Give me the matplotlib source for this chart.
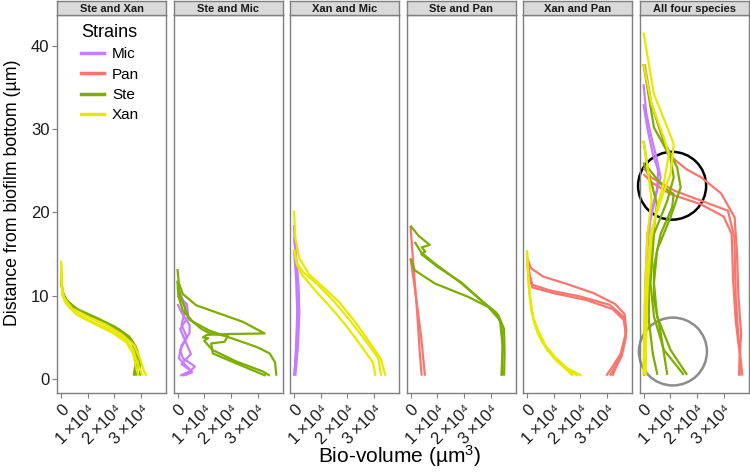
import matplotlib
matplotlib.use("Agg")
import matplotlib.pyplot as plt
from matplotlib.patches import Ellipse
from matplotlib.lines import Line2D

plt.rcParams["font.family"] = ["Liberation Sans", "DejaVu Sans"]
plt.rcParams["mathtext.fontset"] = "custom"
plt.rcParams["mathtext.rm"] = "Liberation Sans"
plt.rcParams["mathtext.it"] = "Liberation Sans:italic"

# bio-volume in units of 1e4 um^3, depth in um
strains = ["Mic", "Pan", "Ste", "Xan"]
colors = {"Mic": "#C77CFF", "Pan": "#F8766D", "Ste": "#7CAE00", "Xan": "#E8E800"}
panel_titles = ["Ste and Xan", "Ste and Mic", "Xan and Mic", "Ste and Pan",
                "Xan and Pan", "All four species"]
x_ticks = [0, 1, 2, 3]
x_tick_labels = ["0", "1\u2009\u00d710\u2074", "2\u2009\u00d710\u2074",
                 "3\u2009\u00d710\u2074"]
y_ticks = [0, 10, 20, 30, 40]

ste_xan = [
    ("Ste", [0, 0.05, 0.2, 0.6, 1.3, 2.0, 2.55, 2.8, 2.85, 2.8],
            [12.5, 10.5, 9.5, 8.4, 7.4, 6.3, 5.1, 3.9, 2.2, 0.4]),
    ("Ste", [0, 0.1, 0.3, 0.8, 1.5, 2.2, 2.6, 2.8, 2.78, 2.72],
            [11.5, 10.0, 9.0, 8.0, 7.0, 5.9, 4.7, 3.3, 1.6, 0.4]),
    ("Ste", [0, 0.05, 0.2, 0.6, 1.3, 2.05, 2.6, 2.85, 2.95, 2.95],
            [13.0, 10.5, 9.4, 8.2, 7.1, 6.0, 4.8, 3.5, 2.0, 0.4]),
    ("Xan", [0, 0.03, 0.1, 0.4, 1.0, 1.7, 2.3, 2.75, 2.95, 3.1, 3.2],
            [14.2, 11.0, 9.8, 8.5, 7.5, 6.5, 5.3, 4.0, 2.5, 1.0, 0.4]),
    ("Xan", [0, 0.05, 0.15, 0.5, 1.1, 1.8, 2.4, 2.7, 2.85, 3.05],
            [14.2, 10.5, 9.3, 8.0, 7.0, 6.0, 4.8, 3.5, 2.0, 0.4]),
    ("Xan", [0, 0.05, 0.2, 0.6, 1.2, 1.9, 2.45, 2.7, 2.8, 2.9],
            [13.5, 10.0, 9.0, 7.7, 6.7, 5.6, 4.4, 3.0, 1.5, 0.4]),
]

ste_mic = [
    ("Mic", [0, 0.2, 0.3, 0.15, 0.35, 0.1, 0.2, 0.65, 0.3],
            [11, 9.5, 8.5, 6.5, 5.0, 3.5, 2.5, 1.5, 0.4]),
    ("Mic", [0, 0.35, 0.4, 0.1, 0.3, 0.5, 0.15, 0.5, 0.1],
            [10, 9, 7.5, 6, 4.5, 3, 1.8, 1.0, 0.4]),
    ("Mic", [0, 0.15, 0.45, 0.45, 0.15, 0.05, 0.35, 0.55, 0.2],
            [9, 8, 6.5, 5.5, 4, 2.5, 1.5, 0.8, 0.4]),
    ("Ste", [0, 0.05, 0.2, 0.7, 1.57, 2.45, 3.26, 1.9, 1.1, 0.95, 1.15, 1.0, 1.3,
             2.2, 3.2, 3.45],
            [13.2, 11.5, 10.2, 8.85, 7.86, 6.86, 5.47, 5.4, 5.3, 5.0, 4.9, 4.6, 3.5,
             2.1, 0.9, 0.4]),
    ("Ste", [0, 0.03, 0.2, 0.6, 0.9, 1.2, 1.88, 1.76, 1.26, 1.32, 2.2, 3.3],
            [11.8, 10, 8.2, 6.8, 6.0, 5.5, 5.15, 4.47, 4.27, 3.07, 1.87, 0.4]),
    ("Ste", [0, 0.1, 0.45, 1.2, 2.2, 3.0, 3.45, 3.65, 3.7],
            [11.8, 10, 7.1, 5.8, 4.7, 3.8, 3.07, 2.0, 0.4]),
]

xan_mic = [
    ("Mic", [0, 0.05, 0.15, 0.2, 0.15, 0.05], [18.5, 15, 12, 8, 4, 0.4]),
    ("Mic", [0, 0.1, 0.18, 0.12, 0.05, 0.0], [17, 14, 10, 6, 2, 0.4]),
    ("Mic", [0, 0.08, 0.12, 0.08, 0.02], [15.5, 12, 8, 4, 0.4]),
    ("Xan", [0, 0.05, 0.2, 0.55, 1.1, 1.7, 2.3, 2.85, 3.25, 3.42],
            [20.2, 17, 14.5, 12.6, 11, 9.2, 6.8, 4.3, 2.4, 0.4]),
    ("Xan", [0, 0.1, 0.35, 0.9, 1.5, 2.1, 2.7, 3.15, 3.26],
            [15.6, 14, 12.8, 11.3, 9.3, 7.0, 4.5, 2.5, 0.4]),
    ("Xan", [0, 0.1, 0.3, 0.8, 1.4, 2.0, 2.55, 2.95, 3.05],
            [15.6, 13.8, 12.5, 10.6, 8.5, 6.2, 3.8, 2.0, 0.4]),
]

ste_pan = [
    ("Pan", [0, 0.1, 0.25, 0.35, 0.42], [18.4, 14, 8, 3, 0.4]),
    ("Pan", [0, 0.2, 0.4, 0.54], [14.5, 10, 5, 0.4]),
    ("Ste", [0, 0.3, 0.72, 0.42, 0.55, 0.4, 1.0, 1.9, 2.7, 3.2, 3.4, 3.45, 3.41],
            [18.4, 17.2, 16.1, 15.8, 15.3, 15.0, 13.5, 11.6, 9.3, 8.0, 6.5, 4.0, 0.4]),
    ("Ste", [0.16, 0.4, 0.91, 1.91, 2.78, 3.28, 3.5, 3.52, 3.5],
            [16.45, 15.2, 13.86, 11.47, 9.06, 7.7, 6.0, 3.0, 0.4]),
    ("Ste", [0, 0.16, 0.91, 2.16, 2.9, 3.35, 3.45, 3.41],
            [14.45, 13.05, 11.47, 9.86, 8.66, 7.06, 3.87, 0.4]),
]

xan_pan = [
    ("Pan", [0, 0.15, 0.6, 1.5, 2.5, 3.3, 3.65, 3.72, 3.55, 3.3, 3.1],
            [14.6, 13.3, 12.3, 11.4, 10.3, 9.0, 7.8, 5.8, 3.2, 1.5, 0.4]),
    ("Pan", [0, 0.1, 0.2, 0.9, 2.0, 3.1, 3.6, 3.7, 3.5, 3.2, 2.97],
            [14.6, 12.5, 11.3, 10.6, 9.9, 8.9, 7.5, 5.5, 3.0, 1.5, 0.4]),
    ("Pan", [0, 0.1, 0.2, 1.0, 2.2, 3.2, 3.65, 3.7, 3.55, 3.3, 3.2],
            [14.0, 12.3, 11.0, 10.3, 9.5, 8.4, 7.0, 5.0, 2.8, 1.2, 0.4]),
    ("Xan", [0, 0.05, 0.1, 0.22, 0.41, 0.7, 1.04, 1.5, 2.04],
            [15.45, 12, 9.86, 7.5, 5.86, 4.0, 2.67, 1.3, 0.4]),
    ("Xan", [0, 0.05, 0.12, 0.25, 0.4, 0.75, 1.1, 1.55, 1.9],
            [15.45, 12, 9.5, 7, 5.5, 3.5, 2.2, 1.0, 0.4]),
    ("Xan", [0, 0.08, 0.15, 0.3, 0.55, 0.9, 1.25, 1.72],
            [14.5, 11, 8.5, 6.5, 4.5, 3.0, 1.8, 0.4]),
]

all_four = [
    ("Mic", [0, 0.1, 0.26, 0.51, 0.64, 0.39, 0.14, 0.08, 0.05, 0.03],
            [35.4, 32, 29.5, 26.2, 24.2, 21.4, 17.4, 12, 6, 0.4]),
    ("Mic", [0, 0.15, 0.35, 0.55, 0.5, 0.25, 0.1, 0.05, 0.02],
            [33, 30, 27, 25, 22.5, 19, 14, 8, 0.4]),
    ("Pan", [0.04, 0.3, 0.91, 1.6, 2.16, 2.9, 3.41, 3.5, 3.55, 3.65, 3.57],
            [37.8, 33, 27, 25.2, 24.2, 22.3, 19.4, 15, 10, 5.5, 0.4]),
    ("Pan", [0, 0.29, 1.16, 2.16, 3.16, 3.4, 3.45, 3.55, 3.7],
            [25.4, 24.2, 22.6, 21.4, 20.2, 17, 10, 5, 0.4]),
    ("Pan", [0, 0.3, 1.01, 2.13, 3.0, 3.3, 3.35, 3.45, 3.6, 3.6],
            [24.6, 23.6, 22.2, 21.0, 19.5, 17.4, 12, 7, 3, 0.4]),
    ("Ste", [0, 0.26, 0.76, 1.26, 1.39, 1.01, 0.51, 0.39, 0.51, 1.01, 1.63],
            [37.8, 33.4, 28.6, 25.4, 23.0, 19.4, 15.5, 11.5, 7.5, 3.5, 0.5]),
    ("Ste", [0, 0.15, 0.76, 1.13, 1.07, 0.64, 0.39, 0.39, 0.64, 0.89],
            [28.6, 25.4, 23.0, 22.2, 20.6, 17.4, 13.5, 9.5, 5.6, 0.5]),
    ("Ste", [0, 0.39, 1.01, 1.13, 0.89, 0.39, 0.26, 0.39, 0.76, 1.51],
            [37.8, 30.2, 26.6, 24.2, 21.4, 17.4, 11.5, 7.5, 3.5, 0.5]),
    ("Ste", [0, 0.3, 0.5, 0.35, 0.2, 0.2, 0.35, 0.52],
            [26.0, 23.5, 21.0, 17, 12, 7, 3, 0.5]),
    ("Xan", [0, 0.39, 0.89, 1.13, 1.01, 0.64, 0.26, 0.14, 0.08],
            [41.6, 34.2, 30.2, 28.2, 24.6, 21.4, 17.4, 11.5, 0.5]),
    ("Xan", [0, 0.3, 0.76, 0.95, 0.76, 0.5, 0.3, 0.15, 0.05],
            [37.8, 33.0, 29.0, 27.0, 23.5, 20.5, 17, 11, 0.5]),
    ("Xan", [0, 0.15, 0.3, 0.15, 0.05, 0.0],
            [28.6, 25.4, 21.5, 17.4, 10, 0.5]),
]

panels = [ste_xan, ste_mic, xan_mic, ste_pan, xan_pan, all_four]

# circles marked on the last panel: centre (x, y), ring colour
circle_centres = [(1.07, 23.2), (1.1, 3.3)]
circle_colors = ["black", "#8C8C8C"]

W, H = 750, 472
fig = plt.figure(figsize=(W / 100, H / 100), dpi=100)
fig.patch.set_facecolor("white")

left0, pw, step = 57, 109.3, 116.5
top_px, bot_px, strip_h = 15, 393, 14
frame_col = "#7F7F7F"

axes = []
for i, curves in enumerate(panels):
    lx = left0 + i * step
    ax = fig.add_axes([lx / W, 1 - bot_px / H, pw / W, (bot_px - top_px) / H])
    for name in strains:
        for strain, xs, ys in curves:
            if strain == name:
                ax.plot(xs, ys, color=colors[strain], lw=1.6, solid_capstyle="butt")
    ax.set_xlim(-0.15, 3.94)
    ax.set_ylim(-1.68, 43.7)
    ax.set_xticks(x_ticks)
    ax.set_xticklabels(x_tick_labels, rotation=45, ha="right", va="top",
                       rotation_mode="anchor", fontsize=12, color="#1A1A1A")
    ax.tick_params(axis="x", length=3.5, color=frame_col, width=0.8, pad=3)
    if i == 0:
        ax.set_yticks(y_ticks)
        ax.tick_params(axis="y", length=3.5, color=frame_col, width=0.8,
                       labelsize=12, labelcolor="#1A1A1A", pad=2)
    else:
        ax.set_yticks([])
    for sp in ax.spines.values():
        sp.set_color(frame_col)
        sp.set_linewidth(1.0)

    sax = fig.add_axes([lx / W, 1 - top_px / H, pw / W, strip_h / H])
    sax.set_facecolor("#D9D9D9")
    sax.set_xticks([])
    sax.set_yticks([])
    for sp in sax.spines.values():
        sp.set_color(frame_col)
        sp.set_linewidth(1.0)
    sax.text(0.5, 0.45, panel_titles[i], ha="center", va="center",
             fontsize=8, fontweight="bold", color="#1A1A1A", transform=sax.transAxes)
    axes.append(ax)

# rings on the "All four species" panel, drawn as pixel circles
ax6 = axes[5]
rx = 34 / 26.7
ry = 34 / 8.35
for (cx, cy), col in zip(circle_centres, circle_colors):
    ax6.add_patch(Ellipse((cx, cy), 2 * rx, 2 * ry, fill=False, edgecolor=col,
                          lw=1.8, clip_on=False))

handles = [Line2D([], [], color=colors[s], lw=2.5) for s in strains]
leg = axes[0].legend(handles, strains, title="Strains", loc="upper left",
                     bbox_to_anchor=(67 / W, 1 - 10 / H), bbox_transform=fig.transFigure,
                     frameon=False, fontsize=11, title_fontsize=13, handlelength=1.55,
                     handletextpad=0.5, labelspacing=0.42, alignment="left")

fig.text(13 / W, 1 - 193 / H, "Distance from biofilm bottom (\u00b5m)", rotation=90,
         ha="center", va="center", fontsize=12.8, color="black")
fig.text(400 / W, 1 - 456 / H, "Bio-volume (\u00b5m$^{3}$)", ha="center", va="center",
         fontsize=15, color="black")

fig.savefig("out.png", dpi=100, facecolor="white")
